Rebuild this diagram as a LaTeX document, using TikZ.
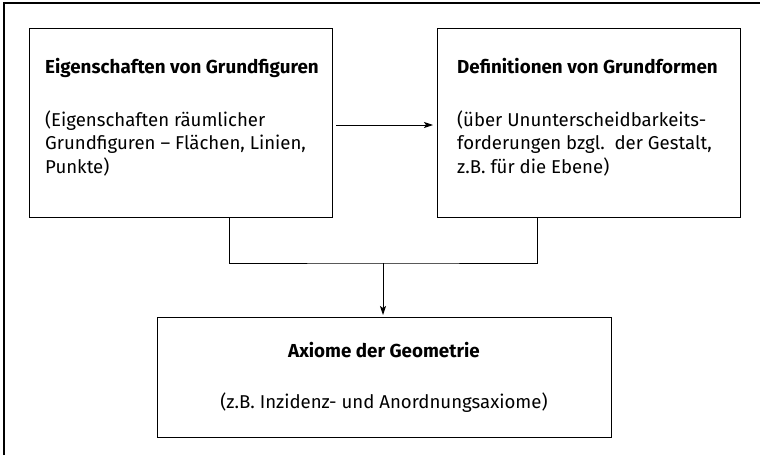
\documentclass[tikz,border=0pt]{standalone}
\usepackage{fontspec}
\setmainfont{Fira Sans}
\usetikzlibrary{arrows.meta,positioning}

\begin{document}
\begin{tikzpicture}[x=1pt, y=-1pt,
    kasten/.style={draw, line width=1.1pt, anchor=north west,
                   minimum width=303pt, minimum height=189pt},
    titel/.style={font=\fontsize{18.8}{22}\selectfont\bfseries, anchor=base west, inner sep=0pt},
    inhalt/.style={font=\fontsize{18.6}{23.5}\selectfont, align=left, anchor=base west, inner sep=0pt},
    pfeil/.style={line width=0.9pt, -{Stealth[length=9pt,width=6pt,inset=2pt]}},
    linie/.style={line width=0.9pt}]
    \useasboundingbox (0,0) rectangle (760,455);
    % Rahmen
    \draw[line width=1.4pt] (4,455) -- (4,3) -- (760,3);

    \node[kasten] (eig) at (29,28) {};
    \node[kasten] (def) at (437,28) {};
    \node[kasten, minimum width=454pt, minimum height=120pt] (ax) at (157,317) {};

    % Texte (base = letzte Zeile)
    \node[titel] (eigT) at (45,73) {Eigenschaften von Grundfiguren};
    \node[inhalt] (eigI) at (45,173) {(Eigenschaften räumlicher\\Grundfiguren – Flächen, Linien,\\Punkte)};
    \node[titel] (defT) at (457,73) {Definitionen von Grundformen};
    \node[inhalt] (defI) at (457,173) {(über Ununterscheidbarkeits-\\forderungen bzgl.\ \ der Gestalt,\\z.B. für die Ebene)};
    \node[titel, anchor=base] (axT) at (384,357) {Axiome der Geometrie};
    \node[inhalt, anchor=base] (axI) at (384,408) {(z.B. Inzidenz- und Anordnungsaxiome)};

    \coordinate (mitte) at (383,263);
    \draw[pfeil, shorten <=3pt, shorten >=4pt] (eig.east |- 0,125) -- (def.west |- 0,125);
    \draw[linie] ([xshift=48.5pt]eig.south) |- (mitte) -| ([xshift=-51.5pt]def.south);
    \draw[pfeil, shorten >=2pt] (mitte) -- (mitte |- ax.north);
\end{tikzpicture}
\end{document}
